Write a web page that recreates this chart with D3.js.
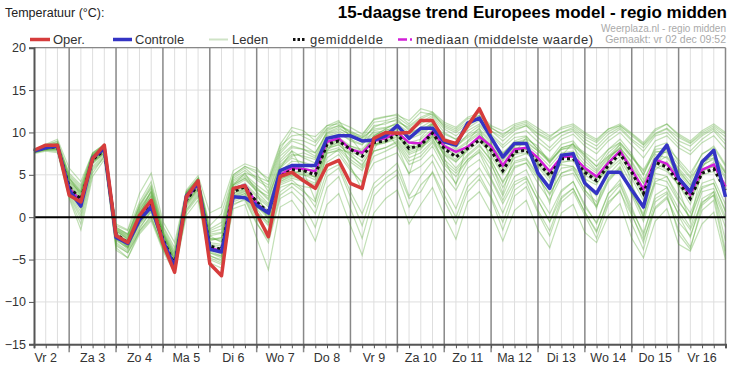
<!DOCTYPE html>
<html>
<head>
<meta charset="utf-8">
<script src="https://cdn.jsdelivr.net/npm/d3@7"></script>
<style>
  html, body { margin: 0; padding: 0; background: #fff; }
  svg { display: block; font-family: "Liberation Sans", Arial, sans-serif; }
</style>
</head>
<body>
<div id="chart"></div>
<script>
// 6-hourly steps, t=0 is vr 2 dec 06:00, t=59 is za 17 00:00
const dagLabels = ['Vr 2','Za 3','Zo 4','Ma 5','Di 6','Wo 7','Do 8','Vr 9','Za 10','Zo 11','Ma 12','Di 13','Wo 14','Do 15','Vr 16'];
const yTicks = [-15,-10,-5,0,5,10,15,20];

const oper = [7.9,8.5,8.5,2.6,1.8,6.9,8.5,-2.2,-3.0,0.2,2.0,-3.1,-6.5,2.4,4.3,-5.5,-6.9,3.4,3.7,0.4,-2.3,4.8,5.3,4.3,3.4,6.1,6.7,4.0,3.4,9.3,10.0,9.9,10.0,11.4,11.4,9.1,8.7,10.8,12.8,9.9];
const controle = [7.8,8.2,8.4,3.2,1.3,7.0,8.1,-2.4,-3.1,-0.3,1.2,-2.8,-5.9,2.5,4.0,-3.8,-4.1,2.4,2.3,1.4,0.5,5.5,6.1,6.1,6.1,9.3,9.6,9.6,9.0,9.1,9.6,10.8,9.3,10.5,10.5,8.9,8.5,11.1,11.7,9.4,7.1,8.7,8.7,5.2,3.4,7.3,7.5,4.0,2.8,5.3,5.3,3.2,1.2,6.7,8.5,4.6,3.0,6.5,7.9,2.4];
const gemiddelde = [7.8,8.2,8.3,3.6,2.1,6.8,7.9,-2.0,-3.0,-0.3,1.6,-2.6,-5.6,2.0,3.8,-3.4,-3.8,3.0,3.6,1.8,0.6,4.8,5.6,5.5,5.0,8.6,9.0,8.0,7.2,8.8,9.0,9.8,8.1,8.5,9.9,8.1,7.1,8.1,9.1,7.9,5.5,7.7,7.9,6.5,4.9,6.9,6.9,5.3,4.3,6.1,7.5,5.3,2.8,6.5,5.9,4.1,2.2,5.2,5.7,3.2];
const mediaan = [7.8,8.3,8.4,3.4,1.9,7.0,8.1,-2.1,-3.1,-0.4,1.5,-2.7,-5.7,2.2,3.9,-3.6,-4.0,3.4,3.8,1.6,0.5,5.0,5.8,5.7,5.4,8.9,9.3,8.0,7.6,9.0,9.3,10.0,8.8,8.7,10.1,8.4,7.7,8.3,9.5,8.4,6.1,8.0,8.2,7.0,5.4,7.1,7.2,5.8,4.8,6.4,7.8,5.6,3.3,6.8,6.3,4.4,2.6,5.6,6.2,3.6];

const leden = [
  [7.9,8.6,9.2,5.8,4.2,7.6,8.6,-0.8,-1.5,2.8,5.2,-0.5,-3.0,3.2,4.9,0.5,1.2,5.5,6.3,5.8,4.2,8.0,10.2,9.5,8.8,10.5,11.2,10.6,9.8,11.5,11.8,12.2,11.0,12.4,12.1,10.8,10.2,11.3,12.0,10.5,9.8,10.6,11.0,9.9,9.2,10.0,10.6,9.5,8.8,10.1,10.8,9.6,8.5,9.9,10.5,9.4,8.7,9.8,10.6,9.5],
  [7.6,8.0,7.9,2.4,-0.8,5.2,7.2,-3.6,-4.8,-1.6,0.2,-3.8,-6.3,0.8,2.6,-5.0,-5.6,1.4,2.2,-0.6,-3.0,2.2,3.0,1.5,-1.2,3.5,4.8,1.0,-2.5,2.5,4.0,5.0,1.2,3.8,5.2,2.0,-0.8,3.0,4.5,2.2,-1.5,2.5,3.6,0.5,-2.2,1.8,3.0,0.2,-2.5,1.5,3.2,-0.8,-3.8,1.2,2.4,-1.5,-3.5,0.8,2.0,-4.5],
  [7.8,8.3,8.5,3.9,2.5,7.1,8.2,-1.7,-2.6,0.4,2.5,-2.0,-4.8,2.5,4.2,-2.5,-2.8,4.0,4.8,3.5,2.2,6.5,7.8,7.0,6.4,9.6,10.0,9.0,8.5,10.2,10.5,11.0,9.5,10.0,11.2,9.0,8.2,9.8,10.8,9.2,7.5,9.0,9.5,8.0,6.8,8.6,9.0,7.2,6.0,8.0,9.2,7.5,5.0,8.3,8.8,6.5,4.8,7.5,8.2,6.0],
  [7.7,8.1,8.0,3.2,1.5,6.5,7.6,-2.4,-3.4,-0.8,1.0,-3.0,-6.0,1.6,3.4,-4.0,-4.6,2.4,3.0,1.0,-0.8,4.0,4.6,4.2,3.5,7.5,8.0,6.5,5.5,7.8,8.2,9.0,7.0,7.6,9.0,6.8,5.5,7.2,8.4,6.8,4.0,6.6,7.0,5.0,3.5,5.8,6.0,3.8,2.5,5.0,6.5,3.8,1.0,5.2,4.8,2.5,0.5,4.0,4.5,1.5],
  [7.9,8.4,8.8,4.8,3.4,7.4,8.4,-1.2,-2.0,1.2,3.6,-1.5,-4.2,2.8,4.4,-1.6,-1.0,4.6,5.5,4.4,3.5,7.5,9.0,8.5,7.6,10.0,10.6,9.6,8.8,10.8,11.0,11.6,10.2,11.0,11.8,10.0,9.2,10.5,11.4,9.8,8.5,9.8,10.2,8.9,7.8,9.2,9.8,8.4,7.5,9.0,10.0,8.5,7.0,9.0,9.6,8.2,7.4,8.8,9.6,8.0],
  [7.8,8.2,8.2,3.0,1.0,6.6,7.8,-2.6,-3.8,-1.2,0.6,-3.4,-6.2,1.4,3.2,-4.5,-5.2,2.0,2.6,0.2,-1.8,3.5,4.0,3.0,1.8,6.5,7.4,5.5,4.2,7.2,7.8,8.5,6.2,6.8,8.4,5.8,4.0,6.5,7.8,5.5,2.5,5.8,6.4,4.0,2.0,4.8,5.2,2.8,1.2,4.2,5.8,2.6,-0.5,4.0,3.6,1.0,-1.2,3.0,3.4,0.0],
  [7.8,8.3,8.6,4.2,2.8,7.2,8.3,-1.4,-2.3,0.8,3.0,-1.8,-4.5,2.6,4.4,-2.0,-1.8,4.4,5.2,4.8,4.2,8.4,9.6,9.8,9.5,10.8,11.0,10.0,9.6,11.6,11.9,12.0,11.4,12.8,12.4,11.2,10.6,11.8,12.3,10.8,10.2,11.0,11.4,10.5,9.6,10.4,10.8,9.8,9.0,10.4,11.0,9.9,8.8,10.4,11.0,9.8,9.0,10.2,11.0,10.0],
  [7.5,7.8,7.6,2.2,-1.5,4.8,6.8,-3.9,-4.8,-2.0,-0.4,-4.0,-6.6,0.2,2.0,-5.4,-6.0,1.0,1.5,-2.5,-6.2,1.2,2.0,0.0,-2.8,1.5,2.8,-1.0,-4.5,0.5,2.2,3.2,-0.8,1.5,3.5,0.2,-2.6,1.8,3.0,0.5,-2.8,0.8,2.0,-1.5,-3.6,0.5,1.5,-1.8,-3.0,0.2,1.6,-2.5,-4.8,-0.5,1.0,-3.2,-4.0,-0.8,0.6,-5.0],
  [7.8,8.2,8.4,3.6,2.2,6.9,8.0,-2.0,-2.8,0.0,1.8,-2.4,-5.4,2.0,3.8,-3.2,-3.4,3.2,3.8,2.4,1.2,5.4,6.6,6.5,6.0,9.0,9.4,8.4,7.8,9.4,9.6,10.2,8.8,9.2,10.4,8.6,7.8,8.8,9.8,8.6,6.6,8.4,8.6,7.4,6.0,7.6,7.8,6.2,5.2,7.0,8.2,6.4,4.0,7.4,7.0,5.2,3.5,6.2,6.8,4.5],
  [7.7,8.0,8.1,3.4,1.6,6.3,7.5,-2.8,-3.6,-0.6,1.2,-2.9,-5.8,1.8,3.6,-3.8,-4.2,2.6,3.2,1.5,0.0,4.4,5.2,5.5,5.6,8.2,8.5,7.4,6.0,8.5,9.0,9.4,8.4,8.2,9.2,7.4,6.5,8.0,9.4,7.2,5.0,7.0,7.5,6.8,5.5,6.2,6.0,4.5,3.8,6.5,7.8,5.9,2.4,6.0,5.4,3.8,1.5,5.4,6.5,2.5],
  [7.9,8.4,8.6,4.4,3.0,7.3,8.4,-1.5,-2.4,0.9,2.8,-2.1,-5.0,2.4,4.0,-2.8,-2.4,3.6,4.4,3.2,2.5,6.0,7.2,7.6,7.0,9.8,10.2,9.4,9.0,10.0,10.2,10.8,9.8,10.6,11.4,9.4,8.6,9.6,10.4,9.0,7.6,8.8,9.2,8.4,6.4,8.0,8.4,7.4,6.0,7.2,8.6,7.0,5.6,8.0,8.2,6.8,5.2,7.4,8.4,6.2],
  [7.8,8.1,8.3,3.8,2.0,6.8,7.9,-2.2,-3.2,-0.4,1.4,-2.8,-5.8,2.2,3.9,-3.5,-3.9,3.0,3.5,1.6,0.4,4.9,5.4,5.0,4.4,8.4,8.8,7.6,6.6,8.6,8.8,9.6,7.6,8.2,9.6,7.6,6.6,7.8,8.9,7.6,5.2,7.4,7.6,6.2,4.6,6.6,6.6,5.0,4.0,5.8,7.2,5.0,2.5,6.3,5.6,3.8,2.0,5.0,5.4,3.0],
  [7.6,8.0,8.2,3.0,0.6,6.0,7.4,-3.0,-4.0,-1.4,0.8,-3.2,-6.0,1.2,3.0,-4.2,-4.8,2.2,2.8,0.6,-1.0,3.8,4.4,3.2,1.2,5.5,6.2,3.0,0.4,4.0,5.2,6.4,2.5,4.8,6.6,3.5,1.0,4.5,5.8,3.5,0.5,3.8,4.6,2.0,-0.5,3.0,4.2,1.5,-0.8,2.8,4.4,1.2,-2.2,2.6,3.5,0.2,-2.4,2.2,3.0,-2.8],
  [7.9,8.5,8.9,5.2,3.8,7.6,8.6,-1.0,-1.6,1.8,4.2,-1.0,-3.6,3.0,4.6,-1.0,0.4,5.0,6.0,5.2,3.0,7.2,8.4,8.0,7.2,10.2,10.8,10.0,9.2,10.6,11.2,11.4,10.4,11.2,12.0,10.4,9.6,10.8,11.6,10.2,9.0,10.2,10.8,9.4,8.2,9.6,10.2,8.8,8.0,9.4,10.4,9.0,7.8,9.6,10.0,8.6,7.8,9.2,10.2,8.6],
  [7.7,8.1,8.2,3.6,2.0,6.6,7.8,-2.1,-3.1,-0.4,1.5,-2.6,-5.5,1.9,3.7,-3.6,-4.0,2.8,3.4,2.0,0.8,5.2,6.0,5.8,5.4,8.8,9.2,8.2,7.6,9.2,9.6,10.4,8.2,8.4,9.8,8.2,7.4,8.4,9.4,8.2,6.2,8.2,8.2,6.0,4.2,6.4,6.8,5.6,4.6,5.6,6.8,4.6,2.0,5.6,6.6,4.8,3.0,5.6,6.0,3.8],
  [7.8,8.3,8.4,3.4,1.8,7.0,8.1,-1.9,-2.9,-0.2,1.7,-2.5,-5.6,2.1,3.9,-3.3,-3.7,3.1,3.7,1.8,0.5,4.6,5.4,5.2,4.8,8.6,9.0,8.2,7.4,9.0,9.2,10.0,8.4,8.8,10.2,8.2,7.2,8.4,9.2,8.0,5.8,7.8,8.0,6.8,5.0,7.2,7.0,5.4,4.4,6.2,7.6,5.4,3.0,6.6,6.2,4.2,2.2,5.4,6.0,3.4],
  [7.6,7.9,7.8,2.6,-0.2,5.6,7.0,-3.4,-4.2,-1.8,-0.2,-3.6,-6.2,0.6,2.4,-4.8,-5.4,1.6,2.0,-0.8,-2.6,2.6,3.6,2.4,0.4,4.8,5.8,2.4,-1.0,3.4,4.6,5.6,2.2,3.0,5.4,2.6,0.0,3.6,5.0,2.4,-0.6,3.2,4.2,0.8,-1.6,2.2,3.4,0.6,-1.8,2.2,3.8,0.4,-3.0,1.8,2.8,-2.0,-3.8,1.4,2.6,-4.0],
  [7.8,8.2,8.5,4.0,2.6,7.2,8.2,-1.6,-2.5,0.6,2.4,-2.2,-5.0,2.4,4.1,-2.6,-2.6,3.8,4.6,3.4,2.0,6.2,7.4,7.2,6.8,9.4,9.8,9.2,8.6,9.8,10.0,10.6,9.2,9.8,11.0,9.2,8.4,9.4,10.2,8.8,7.0,8.8,9.0,7.8,6.4,8.2,8.6,7.0,5.6,7.6,8.8,7.2,5.0,7.8,7.6,5.8,4.2,6.8,7.4,5.2],
  [7.7,8.0,8.0,3.1,1.2,6.4,7.6,-2.6,-3.6,-0.9,0.8,-3.1,-6.0,1.5,3.3,-4.2,-4.6,2.3,2.8,0.6,-0.6,4.2,4.8,4.4,3.8,7.8,8.2,6.8,5.8,7.8,8.2,8.8,6.6,7.2,8.8,6.4,5.2,6.8,8.0,6.2,3.5,6.0,6.4,4.6,2.8,5.2,5.6,3.2,1.8,4.6,6.0,3.0,0.0,4.6,4.2,1.8,0.0,3.6,4.0,0.8],
  [7.9,8.4,8.7,4.6,3.2,7.4,8.5,-1.3,-2.1,1.4,3.4,-1.6,-4.4,2.9,4.5,-1.8,-1.4,4.8,5.8,4.6,3.8,7.8,9.2,9.0,8.4,10.4,10.8,10.2,9.4,11.2,11.4,11.8,10.8,11.8,12.4,10.6,10.0,11.0,11.8,10.2,9.4,10.4,10.8,9.8,9.0,10.0,10.4,9.2,8.4,9.8,10.6,9.2,8.2,9.8,10.4,9.0,8.4,9.6,10.4,9.0],
  [7.9,8.5,9.0,5.0,3.6,7.5,8.5,-1.2,-2.0,1.5,3.8,-1.2,-4.0,3.0,4.6,-1.4,-0.6,5.0,6.0,5.5,4.6,8.6,10.6,10.2,9.0,10.8,11.4,9.4,7.6,9.6,10.4,10.0,7.8,8.4,9.4,6.2,4.8,6.8,7.6,4.6,2.0,4.8,5.6,2.6,0.4,3.2,4.2,1.2,-0.6,2.8,4.0,0.8,-1.8,2.2,3.0,0.4,-1.5,1.8,2.6,-1.2],
  [7.6,7.9,7.8,2.8,0.2,5.8,7.2,-3.2,-4.2,-1.6,0.0,-3.6,-6.3,0.9,2.8,-4.6,-5.0,1.8,2.4,-0.2,-2.0,3.0,4.0,3.6,3.4,7.0,8.0,7.6,7.4,9.6,10.4,11.2,10.6,11.6,12.2,11.0,10.4,11.6,12.0,10.6,9.6,10.8,11.2,10.2,9.4,10.6,11.0,10.0,9.2,10.4,10.8,9.8,8.6,10.2,11.0,9.6,8.8,10.0,10.8,9.8],
  [7.8,8.2,8.6,4.6,2.6,6.8,8.0,-2.0,-3.6,0.2,3.2,-1.8,-5.2,2.8,4.6,-2.2,-3.0,3.8,5.2,3.0,-0.5,5.8,7.8,5.4,2.0,7.8,9.6,6.0,3.2,8.0,10.2,8.4,5.0,9.4,11.0,7.0,3.8,9.0,10.6,6.4,2.8,7.6,9.4,5.2,1.6,7.2,8.8,4.6,1.0,6.8,8.6,3.8,0.0,6.0,8.2,3.4,-0.6,5.8,8.0,2.8],
  [7.7,8.1,8.3,3.3,1.4,6.7,7.8,-2.3,-3.3,-0.6,1.4,-2.7,-5.7,1.9,3.7,-3.6,-4.1,2.8,3.3,1.3,-0.2,4.5,5.0,4.6,4.0,8.0,8.6,7.2,6.2,8.4,8.8,9.2,7.4,8.0,9.6,7.8,6.8,8.2,9.6,8.4,6.8,8.4,8.8,7.8,6.6,8.2,8.6,7.6,6.6,8.0,8.8,7.2,5.4,7.6,8.0,6.2,4.6,6.6,7.0,4.8],
  [7.8,8.3,8.6,4.2,2.9,7.1,8.2,-1.6,-2.6,0.6,2.6,-2.0,-4.9,2.6,4.2,-2.6,-2.4,3.8,4.6,3.0,1.6,5.8,7.0,6.4,5.6,8.8,9.2,8.0,7.0,8.6,9.0,9.8,8.0,8.6,9.8,7.4,5.8,7.4,8.6,6.6,4.2,6.4,6.8,4.8,2.6,5.2,5.8,3.2,1.4,4.4,5.8,2.8,0.4,4.2,4.8,2.0,-0.2,3.4,4.0,0.6],
  [7.7,8.0,8.1,3.5,1.7,6.5,7.6,-2.5,-3.5,-0.7,1.1,-3.0,-5.9,1.6,3.5,-3.8,-4.4,2.5,3.1,1.2,0.2,4.2,5.0,5.0,4.8,8.2,8.8,8.4,8.0,9.6,10.0,10.6,9.6,10.2,10.8,9.0,8.0,9.0,10.0,8.0,5.6,7.4,8.0,6.4,4.8,6.8,7.4,5.6,4.6,6.8,8.2,6.6,4.4,7.0,7.8,5.6,3.8,6.4,7.4,5.4],
  [7.8,8.2,8.3,3.7,2.3,6.9,8.0,-1.9,-2.8,-0.1,1.9,-2.4,-5.4,2.2,4.0,-3.0,-3.2,3.4,4.0,2.6,1.4,5.6,6.2,5.6,4.6,7.6,7.8,5.8,4.0,6.4,7.0,7.6,5.2,6.0,7.4,5.0,3.2,5.8,6.8,4.4,1.6,4.2,4.8,2.0,-0.6,2.4,3.4,0.6,-1.6,1.8,3.0,0.2,-2.6,1.0,2.2,-0.6,-2.2,1.6,3.0,-0.4],
  [7.9,8.4,8.7,4.6,3.0,7.3,8.4,-1.4,-2.2,1.1,3.0,-1.8,-4.6,2.7,4.3,-2.2,-1.9,4.2,5.0,3.8,2.8,6.8,8.2,8.0,7.6,9.9,10.4,9.8,9.4,10.4,10.6,11.0,10.0,10.4,11.0,9.8,9.2,10.2,11.0,9.6,8.2,9.4,9.6,8.0,6.6,8.0,8.2,6.6,5.4,7.2,8.0,6.0,4.0,6.4,7.2,5.4,3.8,6.0,7.0,5.2]
];

const kleur = {
  oper: '#d63c3c',
  controle: '#3434c4',
  leden: '#55aa35',
  ledenLegend: '#cfe3c6',
  gem: '#111',
  med: '#d21fd8',
  grid: '#dedede',
  dag: '#888',
  as: '#555',
  tekst: '#333'
};

const W = 732, H = 381;
const svg = d3.select('#chart').append('svg').attr('width', W).attr('height', H);

const x = d3.scaleLinear().domain([0, 59]).range([34, 725.5]);
const y = d3.scaleLinear().domain([-15, 20]).range([344.3, 47.7]);

// grid
const gridG = svg.append('g');
gridG.selectAll('line.h').data(yTicks).join('line')
  .attr('x1', x(0)).attr('x2', x(59))
  .attr('y1', d => y(d)).attr('y2', d => y(d))
  .attr('stroke', kleur.grid).attr('stroke-width', 1);
gridG.selectAll('line.v').data(d3.range(1, 59).filter(t => (t - 3) % 4 !== 0)).join('line')
  .attr('x1', d => x(d)).attr('x2', d => x(d))
  .attr('y1', y(20)).attr('y2', y(-15))
  .attr('stroke', kleur.grid).attr('stroke-width', 1);
gridG.selectAll('line.d').data(d3.range(3, 59, 4)).join('line')
  .attr('x1', d => x(d)).attr('x2', d => x(d))
  .attr('y1', y(20)).attr('y2', y(-15) + 8)
  .attr('stroke', kleur.dag).attr('stroke-width', 1.5);

// border
svg.append('line').attr('x1', x(0)).attr('x2', x(59)).attr('y1', y(20)).attr('y2', y(20)).attr('stroke', kleur.dag).attr('stroke-width', 1.2);
svg.append('line').attr('x1', x(59)).attr('x2', x(59)).attr('y1', y(20)).attr('y2', y(-15)).attr('stroke', kleur.dag).attr('stroke-width', 1.5);

const line = d3.line().x((d, i) => x(i)).y(d => y(d));
const seriesG = svg.append('g');

seriesG.selectAll('path.lid').data(leden).join('path')
  .attr('class', 'lid')
  .attr('fill', 'none').attr('stroke', kleur.leden)
  .attr('stroke-opacity', 0.36).attr('stroke-width', 1.2)
  .attr('d', line);

// zero line
svg.append('line').attr('x1', x(0)).attr('x2', x(59)).attr('y1', y(0)).attr('y2', y(0)).attr('stroke', '#000').attr('stroke-width', 2);

seriesG.append('path').datum(mediaan).attr('fill', 'none').attr('stroke', kleur.med).attr('stroke-width', 2.5).attr('d', line);
seriesG.append('path').datum(gemiddelde).attr('fill', 'none').attr('stroke', kleur.gem).attr('stroke-width', 3).attr('stroke-dasharray', '3,3').attr('d', line);
seriesG.append('path').datum(controle).attr('fill', 'none').attr('stroke', kleur.controle).attr('stroke-width', 3.5).attr('stroke-linejoin', 'round').attr('d', line);
seriesG.append('path').datum(oper).attr('fill', 'none').attr('stroke', kleur.oper).attr('stroke-width', 3.5).attr('stroke-linejoin', 'round').attr('d', line);

// axes
const yAxis = d3.axisLeft(y).tickValues(yTicks).tickSize(5).tickPadding(3);
const yAxisG = svg.append('g').attr('transform', `translate(${x(0)},0)`).call(yAxis);
yAxisG.select('.domain').attr('stroke', kleur.as).attr('stroke-width', 2);
yAxisG.selectAll('.tick line').attr('stroke', kleur.as);
yAxisG.selectAll('.tick text').attr('font-size', 12.5).attr('fill', kleur.tekst).attr('font-family', '"Liberation Sans", Arial, sans-serif');

const xAxis = d3.axisBottom(x).tickValues(d3.range(0, 60)).tickSize(4).tickFormat('');
const xAxisG = svg.append('g').attr('transform', `translate(0,${y(-15)})`).call(xAxis);
xAxisG.select('.domain').attr('stroke', kleur.as).attr('stroke-width', 2);
xAxisG.selectAll('.tick line').attr('stroke', kleur.as);

svg.append('g').selectAll('text').data(dagLabels).join('text')
  .attr('x', (d, i) => x(1 + i * 4)).attr('y', 362)
  .attr('text-anchor', 'middle').attr('font-size', 12.5).attr('fill', kleur.tekst)
  .text(d => d);

// titles
svg.append('text').attr('x', 5).attr('y', 17).attr('font-size', 12.5).attr('fill', '#222').text('Temperatuur (°C):');
svg.append('text').attr('x', 727).attr('y', 18).attr('text-anchor', 'end').attr('font-size', 17).attr('font-weight', 'bold').attr('fill', '#000')
  .text('15-daagse trend Europees model - regio midden');
svg.append('text').attr('x', 726).attr('y', 31.5).attr('text-anchor', 'end').attr('font-size', 10).attr('fill', '#aaa').text('Weerplaza.nl - regio midden');
svg.append('text').attr('x', 726).attr('y', 43).attr('text-anchor', 'end').attr('font-size', 10.5).attr('fill', '#aaa').text('Gemaakt: vr 02 dec 09:52');

// legend
const legend = [
  {naam: 'Oper.', x1: 30, x2: 50, tx: 53, len: null, kleur: kleur.oper, w: 3.5, dash: null},
  {naam: 'Controle', x1: 113, x2: 132, tx: 135, len: null, kleur: kleur.controle, w: 3.5, dash: null},
  {naam: 'Leden', x1: 209, x2: 228, tx: 232, len: null, kleur: kleur.ledenLegend, w: 2, dash: null},
  {naam: 'gemiddelde', x1: 293, x2: 306, tx: 310, len: 73, kleur: kleur.gem, w: 3, dash: '2.5,2'},
  {naam: 'mediaan (middelste waarde)', x1: 398, x2: 413, tx: 416, len: 177, kleur: kleur.med, w: 2.5, dash: '9,3,2,3'}
];
const lg = svg.append('g').selectAll('g').data(legend).join('g');
lg.append('line').attr('x1', d => d.x1).attr('x2', d => d.x2).attr('y1', 39.5).attr('y2', 39.5)
  .attr('stroke', d => d.kleur).attr('stroke-width', d => d.w).attr('stroke-dasharray', d => d.dash);
lg.append('text').attr('x', d => d.tx).attr('y', 44).attr('font-size', 13).attr('fill', kleur.tekst)
  .attr('textLength', d => d.len).attr('lengthAdjust', 'spacing')
  .text(d => d.naam);
</script>
</body>
</html>
